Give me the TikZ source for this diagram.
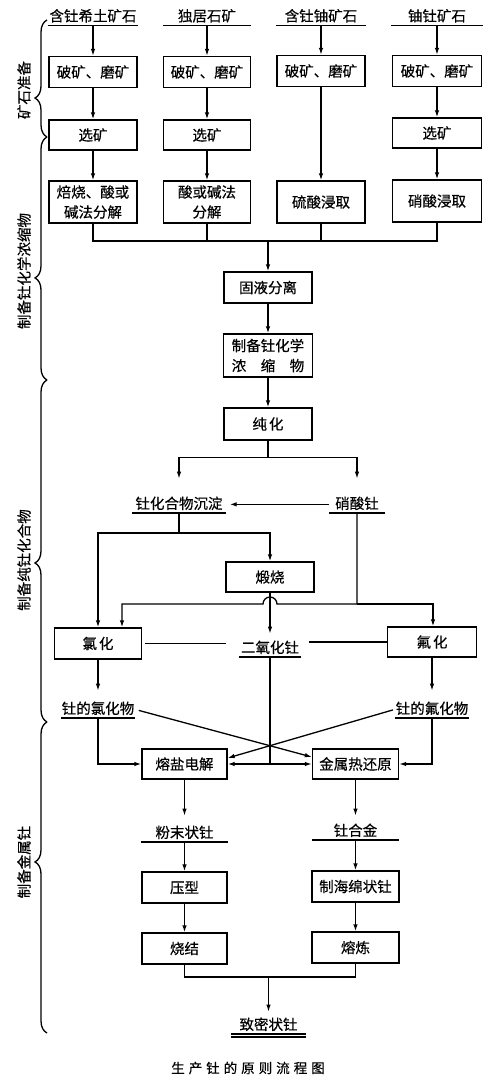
\documentclass[tikz,border=0pt]{standalone}
\usepackage{fontspec}
\setmainfont{Noto Sans CJK SC}[FakeBold=0.4]
\usetikzlibrary{arrows.meta,decorations.pathreplacing,calc}
\newcommand\myfs{\fontsize{14.5pt}{20pt}\selectfont}
\newcommand\capfs{\fontsize{13.5pt}{13.5pt}\selectfont}
\begin{document}
\begin{tikzpicture}[x=1pt,y=-1pt,line width=1.3pt,
  box/.style={draw, inner sep=0pt, align=center, font=\myfs, minimum height=31pt},
  ul/.style={inner xsep=0pt, inner ysep=1.5pt, text height=11pt, text depth=2pt, anchor=south, font=\myfs},
  side/.style={rotate=90, font=\myfs},
  arr/.style={-{Latex[length=7pt,width=4.5pt]}},
  brc/.style={decorate, decoration={brace, amplitude=12pt, aspect=#1}},
]
\fill[white] (0,0) rectangle (500,1087);
\useasboundingbox (0,0) rectangle (500,1087);

% sources
\node[ul, minimum width=89pt] (s1) at (93,25.5) {含钍希土矿石};
\node[ul, minimum width=87pt] (s2) at (207,25.5) {独居石矿};
\node[ul, minimum width=88pt] (s3) at (321,25.5) {含钍铀矿石};
\node[ul, minimum width=90pt] (s4) at (437,25.5) {铀钍矿石};

% row 1
\node[box, minimum width=88pt] (b11) at (93,72) {破矿、磨矿};
\node[box, minimum width=87pt] (b21) at (207,72) {破矿、磨矿};
\node[box, minimum width=88pt] (b31) at (321,71) {破矿、磨矿};
\node[box, minimum width=89pt] (b41) at (437,71) {破矿、磨矿};
% row 2
\node[box, minimum width=88pt, minimum height=30pt] (b12) at (93,135) {选矿};
\node[box, minimum width=87pt, minimum height=30pt] (b22) at (207,135) {选矿};
\node[box, minimum width=89pt, minimum height=30pt] (b42) at (437,133) {选矿};
% row 3
\node[box, minimum width=88pt, minimum height=42pt] (b13) at (93,202) {焙烧、酸或\\碱法分解};
\node[box, minimum width=87pt, minimum height=42pt] (b23) at (207,202) {酸或碱法\\分解};
\node[box, minimum width=88pt, minimum height=42pt] (b33) at (321,202) {硫酸浸取};
\node[box, minimum width=89pt, minimum height=42pt] (b43) at (437,201) {硝酸浸取};

% centre
\node[box, minimum width=88pt] (sep) at (268,287.5) {固液分离};
\node[box, minimum width=89pt, minimum height=43pt] (conc) at (268,355.5) {制备钍化学\\浓\hspace{1em}缩\hspace{1em}物};
\node[box, minimum width=88pt, minimum height=32pt] (pur) at (268,424) {纯\hspace{2pt}化};

\node[ul, minimum width=92pt] (cmpd) at (179,513) {钍化合物沉淀};
\node[ul, minimum width=55pt] (nit) at (357,513) {硝酸钍};
\node[box, minimum width=88pt, minimum height=30pt] (calc) at (270,577) {煅烧};
\node[box, minimum width=87pt] (chl) at (98,643.5) {氯\hspace{2pt}化};
\node[ul, minimum width=60pt] (tho) at (270,657) {二氧化钍};
\node[box, minimum width=89pt, minimum height=30pt] (flu) at (432,642) {氟\hspace{2pt}化};
\node[ul, minimum width=71pt] (chlp) at (98,718) {钍的氯化物};
\node[ul, minimum width=73pt] (flup) at (432,718) {钍的氟化物};
\node[box, minimum width=85pt, minimum height=30pt] (mse) at (184.5,764) {熔盐电解};
\node[box, minimum width=86pt, minimum height=30pt] (mtr) at (355.5,764) {金属热还原};
\node[ul, minimum width=86pt] (pow) at (184.5,842) {粉末状钍};
\node[ul, minimum width=85pt] (alloy) at (355.5,840) {钍合金};
\node[box, minimum width=85pt] (press) at (184.5,887.5) {压型};
\node[box, minimum width=87pt] (sponge) at (355.5,886.5) {制海绵状钍};
\node[box, minimum width=85pt] (sinter) at (184.5,948.5) {烧结};
\node[box, minimum width=87pt] (melt) at (355.5,947.5) {熔炼};
\node[ul, minimum width=73pt] (dense) at (268.5,1034) {致密状钍};

\node[font=\capfs] (cap) at (248,1068) {生\hspace{4pt}产\hspace{4pt}钍\hspace{4pt}的\hspace{4pt}原\hspace{4pt}则\hspace{4pt}流\hspace{4pt}程\hspace{4pt}图};

% underlines
\foreach \n in {s1,s2,s3,s4,cmpd,nit,tho,chlp,flup,pow,alloy,dense}
  \draw (\n.south west) -- (\n.south east);
\draw ([yshift=-3pt]dense.south west) -- ([yshift=-3pt]dense.south east);

% side labels and braces
\node[side] (L1) at (24,90) {矿石准备};
\node[side] (L2) at (24,271) {制备钍化学浓缩物};
\node[side] (L3) at (24,560) {制备纯钍化合物};
\node[side] (L4) at (24,862) {制备金属钍};
\draw[brc=0.333] (47,137) -- (47,20);
\draw[brc=0.42] (47,380) -- (47,137);
\draw[brc=0.465] (47,722) -- (47,380);
\draw[brc=0.55] (47,1033) -- (47,722);

% ore columns
\draw[arr] (s1.south) -- (b11.north);
\draw[arr] (b11) -- (b12);
\draw[arr] (b12) -- (b13);
\draw[arr] (s2.south) -- (b21.north);
\draw[arr] (b21) -- (b22);
\draw[arr] (b22) -- (b23);
\draw[arr] (s3.south) -- (b31.north);
\draw[arr] (b31) -- (b33);
\draw[arr] (s4.south) -- (b41.north);
\draw[arr] (b41) -- (b42);
\draw[arr] (b42) -- (b43);
\coordinate (m1) at (268,241);
\draw (b13.south) |- (b43.south |- m1) -- (b43.south);
\draw (b23.south) -- (b23.south |- m1);
\draw (b33.south) -- (b33.south |- m1);
\draw[arr] (m1) -- (sep.north);
\draw[arr] (sep) -- (conc);
\draw[arr] (conc) -- (pur);

% purification split
\coordinate (sp) at ([yshift=-17pt]pur.south);
\draw (pur.south) -- (sp);
\draw[arr, shorten >=17pt] (sp) -| (cmpd.north);
\draw[arr, shorten >=17pt] (sp) -| (nit.north);
\draw[arr, shorten >=4pt] (nit.west) -- (cmpd.east);

% precipitate
\coordinate (j1) at ([yshift=-20pt]cmpd.south);
\draw (cmpd.south) -- (j1);
\draw[arr] (j1) -| (chl.north);
\draw[arr] (j1) -| (calc.north);

% thorium nitrate
\coordinate (j2) at (nit.south |- 0,604);
\coordinate (hop) at (calc.south |- j2);
\coordinate (cin) at ([xshift=24pt]chl.north);
\coordinate (fin) at ([xshift=1pt]flu.north);
\draw[arr] (nit.south) -- (j2) -- ([xshift=7pt]hop) arc[start angle=0, end angle=180, radius=7pt] -- (cin |- j2) -- (cin);
\draw[arr] (j2) -| (fin);

% thoria
\draw[arr, shorten >=6pt] (calc.south) -- (tho.north);
\draw[shorten <=3pt, shorten >=13pt] (chl.east) -- (chl.east -| tho.west);
\draw[shorten <=8pt] (tho.east |- flu.west) -- (flu.west);
\coordinate (j3) at (tho.south |- mse.east);
\draw (tho.south) -- (j3);
\draw[arr] (j3) -- (mse.east);
\draw[arr] (j3) -- (mtr.west);

% halides
\draw[arr, shorten >=10pt] (chl.south) -- (chlp.north);
\draw[arr, shorten >=10pt] (flu.south) -- (flup.north);
\draw[arr] (chlp.south) |- (mse.west);
\draw[arr] (flup.south) |- (mtr.east);
\draw[arr, shorten <=4pt] (chlp.east) -- ([yshift=7pt]mtr.west);
\draw[arr, shorten <=2pt] (flup.west) -- ([yshift=6pt]mse.east);

% metal
\draw[arr, shorten >=9pt] (mse.south) -- (pow.north);
\draw[arr, shorten >=7pt] (mtr.south) -- (alloy.north);
\draw[arr] (pow.south) -- (press.north);
\draw[arr] (alloy.south) -- (sponge.north);
\draw[arr] (press) -- (sinter);
\draw[arr] (sponge) -- (melt);
\coordinate (j4) at (dense.north |- 0,977);
\draw (sinter.south) |- (j4) -| (melt.south);
\draw[arr, shorten >=5pt] (j4) -- (dense.north);
\end{tikzpicture}
\end{document}
